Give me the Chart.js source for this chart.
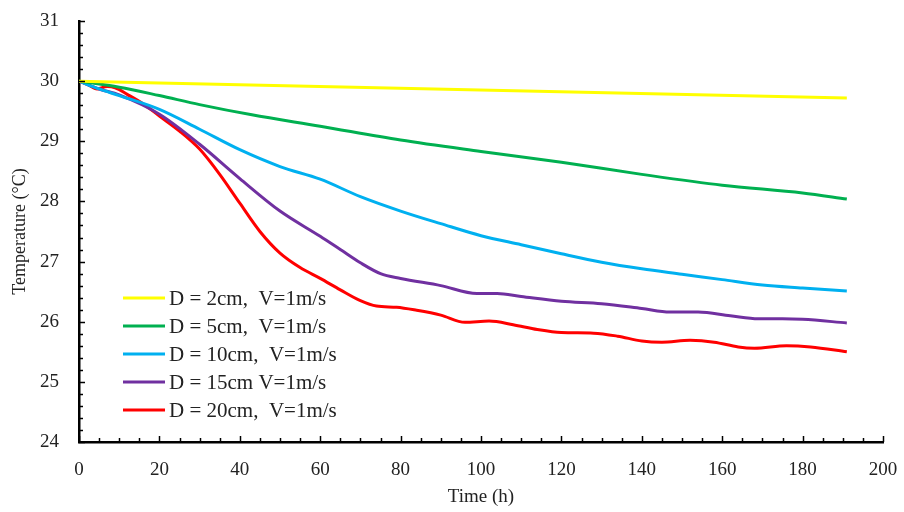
<!DOCTYPE html>
<html>
<head>
<meta charset="utf-8">
<script src="https://cdn.jsdelivr.net/npm/chart.js@4.4.1/dist/chart.umd.min.js"></script>
<style>
  html, body { margin: 0; padding: 0; background: #fff; }
  #wrap { width: 904px; height: 512px; }
</style>
</head>
<body>
<div id="wrap"><canvas id="myChart" width="904" height="512"></canvas></div>
<script>
// series labels
const seriesLabels = [
  'D = 2cm,  V=1m/s',
  'D = 5cm,  V=1m/s',
  'D = 10cm,  V=1m/s',
  'D = 15cm V=1m/s',
  'D = 20cm,  V=1m/s'
];
const seriesColors = ['#FFFF00', '#00B050', '#00B0F0', '#7030A0', '#FF0000'];

// time (h) and temperature (°C)
const yellowHours = [0, 191];
const yellow = [30.0, 29.72];

const greenHours = [0, 10, 20, 30, 43, 60, 80, 100, 120, 140, 160, 180, 191];
const green = [30.0, 29.9, 29.76, 29.61, 29.44, 29.25, 29.02, 28.83, 28.65, 28.45, 28.27, 28.14, 28.04];

const blueHours = [0, 5, 10, 20, 30, 40, 50, 60, 70, 80, 90, 100, 110, 120, 130, 140, 150, 160, 170, 180, 191];
const blue = [30.0, 29.87, 29.76, 29.53, 29.2, 28.86, 28.58, 28.37, 28.08, 27.84, 27.63, 27.43, 27.28, 27.13, 26.99, 26.88, 26.79, 26.70, 26.61, 26.56, 26.51];

const purpleHours = [0, 5, 10, 20, 30, 40, 50, 60, 65, 70, 75, 80, 90, 99, 104, 110, 120, 130, 140, 147, 154, 162, 169, 175, 180, 191];
const purple = [30.0, 29.87, 29.77, 29.45, 28.95, 28.38, 27.84, 27.42, 27.2, 26.98, 26.8, 26.72, 26.6, 26.47, 26.47, 26.42, 26.34, 26.3, 26.22, 26.16, 26.16, 26.1, 26.05, 26.05, 26.04, 25.98];

const redHours = [0, 2, 4.5, 7, 9, 12, 16, 20, 25, 30, 35, 40, 45, 50, 55, 60, 65, 70, 74, 79, 84, 90, 96, 102, 108, 114, 120, 128, 134, 140, 145, 152, 158, 164, 168, 176, 182, 191];
const red = [30.0, 29.95, 29.87, 29.91, 29.89, 29.78, 29.62, 29.42, 29.17, 28.87, 28.45, 27.97, 27.5, 27.14, 26.9, 26.72, 26.53, 26.35, 26.26, 26.24, 26.19, 26.11, 25.99, 26.01, 25.95, 25.87, 25.82, 25.81, 25.76, 25.68, 25.66, 25.69, 25.66, 25.58, 25.56, 25.60, 25.58, 25.5];

const allHours = [yellowHours, greenHours, blueHours, purpleHours, redHours];
const allTemps = [yellow, green, blue, purple, red];

const FONT = "'Liberation Serif', 'Times New Roman', serif";

// inward tick marks (major + minor) on both axes
const insideTicks = {
  id: 'insideTicks',
  afterDraw(chart) {
    const ctx = chart.ctx;
    const xs = chart.scales.x, ys = chart.scales.y;
    const area = chart.chartArea;
    ctx.save();
    ctx.strokeStyle = '#000';
    ctx.lineWidth = 1.5;
    for (let v = 0; v <= 200; v += 5) {
      const px = Math.round(xs.getPixelForValue(v)) + 0.5;
      const len = v % 20 === 0 ? 6 : 4;
      ctx.beginPath();
      ctx.moveTo(px, area.bottom);
      ctx.lineTo(px, area.bottom - len);
      ctx.stroke();
    }
    for (let i = 0; i <= 35; i++) {
      const v = 24 + i * 0.2;
      const py = Math.round(ys.getPixelForValue(v)) + 0.5;
      const len = i % 5 === 0 ? 6 : 4;
      ctx.beginPath();
      ctx.moveTo(area.left, py);
      ctx.lineTo(area.left + len, py);
      ctx.stroke();
    }
    ctx.restore();
  }
};

// legend drawn inside the plot area
const innerLegend = {
  id: 'innerLegend',
  afterDraw(chart) {
    const ctx = chart.ctx;
    ctx.save();
    ctx.font = '21px ' + FONT;
    ctx.textBaseline = 'middle';
    ctx.fillStyle = '#222';
    chart.data.datasets.forEach((ds, i) => {
      const y = 298 + i * 28;
      ctx.strokeStyle = ds.borderColor;
      ctx.lineWidth = 3;
      ctx.beginPath();
      ctx.moveTo(123, y);
      ctx.lineTo(165, y);
      ctx.stroke();
      ctx.fillText(ds.label, 169, y + 1);
    });
    ctx.restore();
  }
};

new Chart(document.getElementById('myChart').getContext('2d'), {
  type: 'line',
  data: {
    datasets: seriesLabels.map((label, i) => ({
      label: label,
      data: allHours[i].map((h, j) => ({ x: h, y: allTemps[i][j] })),
      borderColor: seriesColors[i],
      backgroundColor: seriesColors[i],
      borderWidth: 3,
      pointRadius: 0,
      cubicInterpolationMode: 'monotone',
      fill: false
    }))
  },
  options: {
    responsive: false,
    animation: false,
    layout: { padding: { top: 21, right: 21, left: 0, bottom: 0 } },
    plugins: {
      legend: { display: false },
      tooltip: { enabled: false }
    },
    scales: {
      x: {
        type: 'linear',
        min: 0,
        max: 200,
        afterFit(scale) {
          scale.height = 70;
          scale.paddingLeft = 0;
          scale.paddingRight = 0;
        },
        grid: { drawOnChartArea: false, drawTicks: false },
        border: { color: '#000', width: 2.5 },
        ticks: {
          stepSize: 20,
          padding: 17,
          color: '#222',
          font: { family: FONT, size: 19 }
        },
        title: {
          display: true,
          text: 'Time (h)',
          color: '#222',
          font: { family: FONT, size: 19 },
          padding: { top: 5 }
        }
      },
      y: {
        min: 24,
        max: 31,
        afterFit(scale) {
          scale.width = 79;
          scale.paddingTop = 0;
          scale.paddingBottom = 0;
        },
        grid: { drawOnChartArea: false, drawTicks: false },
        border: { color: '#000', width: 2.5 },
        ticks: {
          stepSize: 1,
          padding: 20,
          color: '#222',
          font: { family: FONT, size: 19 }
        },
        title: {
          display: true,
          text: 'Temperature (°C)',
          color: '#222',
          font: { family: FONT, size: 18 },
          padding: { top: 9, bottom: 0 }
        }
      }
    }
  },
  plugins: [insideTicks, innerLegend]
});
</script>
</body>
</html>
